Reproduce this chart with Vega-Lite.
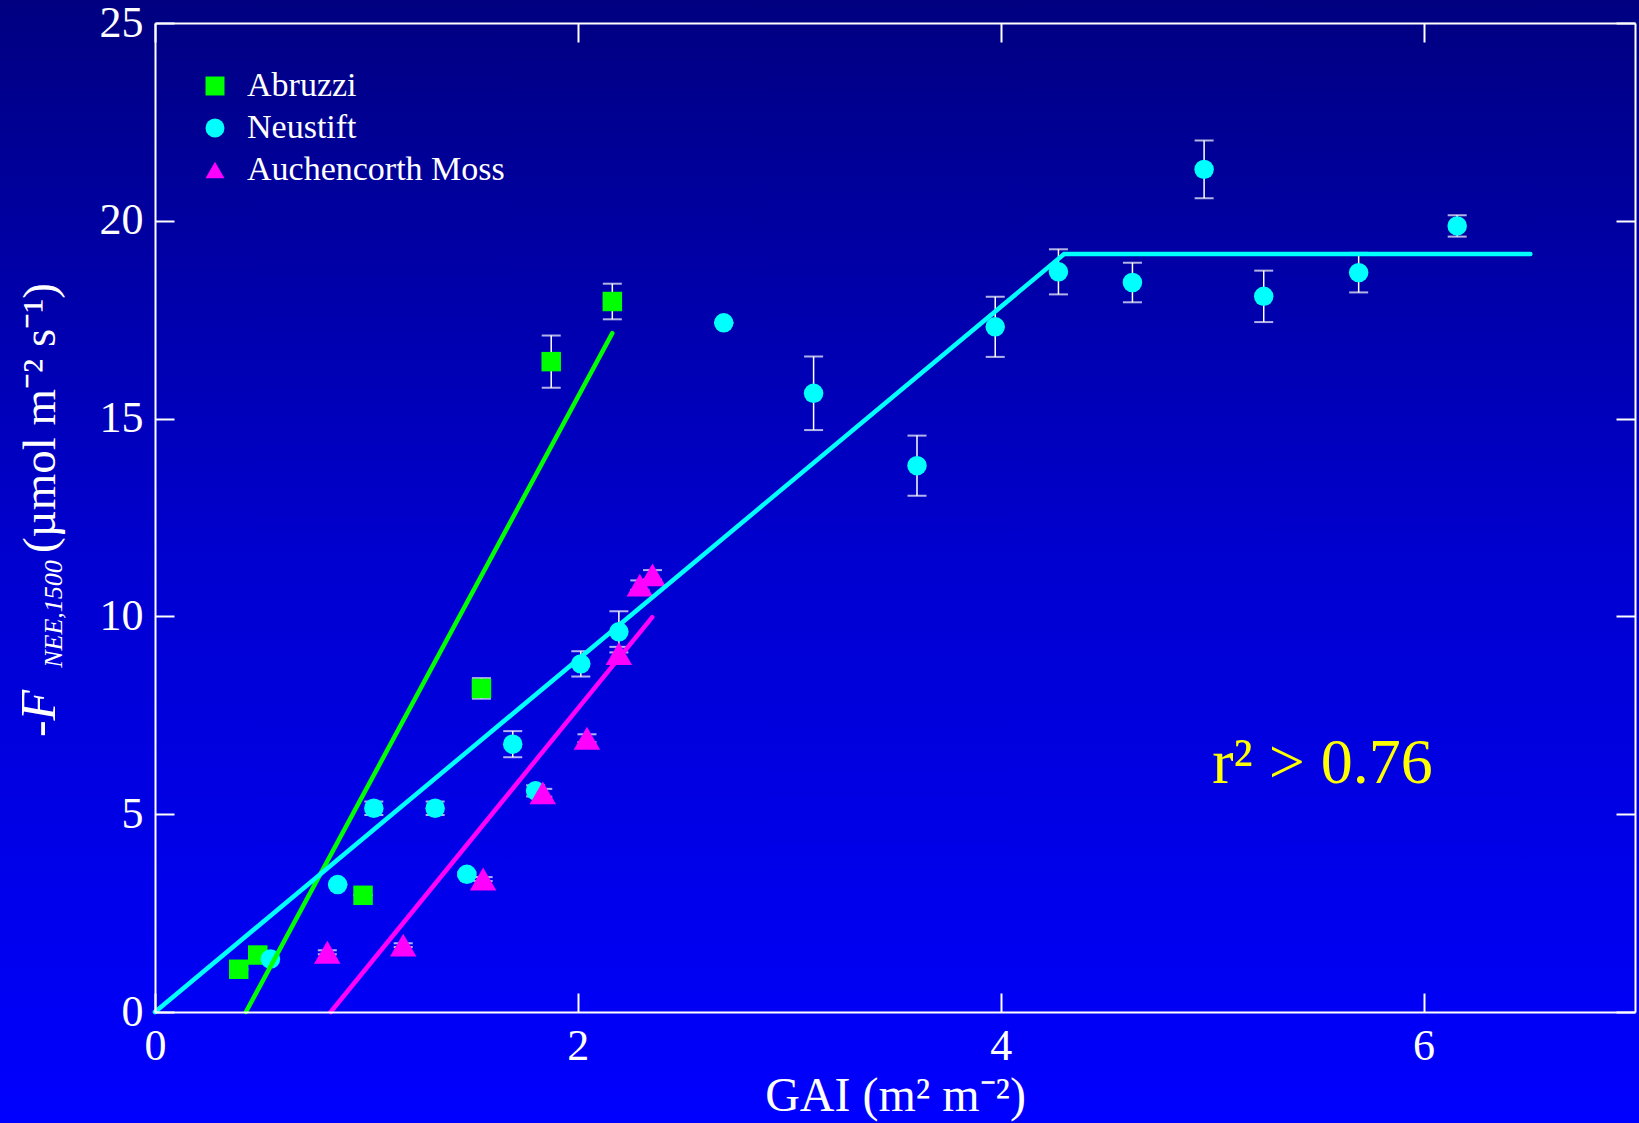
{
  "$schema": "https://vega.github.io/schema/vega-lite/v6.json",
  "width": 1480,
  "height": 989,
  "autosize": {"type": "none"},
  "padding": {"left": 155, "top": 23, "right": 4, "bottom": 111},
  "background": "#0000c0",
  "config": {
    "view": {"stroke": null},
    "font": "Liberation Serif"
  },
  "datasets": {
    "pts": [
      {"site": "Abruzzi", "gai": 0.396, "f": 1.08, "err": 0},
      {"site": "Abruzzi", "gai": 0.486, "f": 1.44, "err": 0},
      {"site": "Abruzzi", "gai": 0.984, "f": 2.95, "err": 0},
      {"site": "Abruzzi", "gai": 1.544, "f": 8.18, "err": 0.26},
      {"site": "Abruzzi", "gai": 1.874, "f": 16.44, "err": 0.66},
      {"site": "Abruzzi", "gai": 2.163, "f": 17.96, "err": 0.45},
      {"site": "Neustift", "gai": 0.546, "f": 1.34, "err": 0},
      {"site": "Neustift", "gai": 0.864, "f": 3.22, "err": 0},
      {"site": "Neustift", "gai": 1.035, "f": 5.15, "err": 0.17},
      {"site": "Neustift", "gai": 1.325, "f": 5.15, "err": 0.17},
      {"site": "Neustift", "gai": 1.475, "f": 3.48, "err": 0.05},
      {"site": "Neustift", "gai": 1.692, "f": 6.77, "err": 0.33},
      {"site": "Neustift", "gai": 1.8, "f": 5.59, "err": 0.14},
      {"site": "Neustift", "gai": 2.014, "f": 8.8, "err": 0.32},
      {"site": "Neustift", "gai": 2.194, "f": 9.61, "err": 0.52},
      {"site": "Neustift", "gai": 2.69, "f": 17.42, "err": 0},
      {"site": "Neustift", "gai": 3.115, "f": 15.64, "err": 0.93},
      {"site": "Neustift", "gai": 3.604, "f": 13.81, "err": 0.76},
      {"site": "Neustift", "gai": 3.974, "f": 17.32, "err": 0.76},
      {"site": "Neustift", "gai": 4.273, "f": 18.71, "err": 0.57},
      {"site": "Neustift", "gai": 4.623, "f": 18.44, "err": 0.5},
      {"site": "Neustift", "gai": 4.962, "f": 21.3, "err": 0.73},
      {"site": "Neustift", "gai": 5.244, "f": 18.09, "err": 0.65},
      {"site": "Neustift", "gai": 5.693, "f": 18.69, "err": 0.5},
      {"site": "Neustift", "gai": 6.159, "f": 19.87, "err": 0.27},
      {"site": "Auchencorth Moss", "gai": 0.815, "f": 1.51, "err": 0.05},
      {"site": "Auchencorth Moss", "gai": 1.174, "f": 1.69, "err": 0.05},
      {"site": "Auchencorth Moss", "gai": 1.552, "f": 3.36, "err": 0.05},
      {"site": "Auchencorth Moss", "gai": 1.834, "f": 5.54, "err": 0.1},
      {"site": "Auchencorth Moss", "gai": 2.043, "f": 6.92, "err": 0.1},
      {"site": "Auchencorth Moss", "gai": 2.194, "f": 9.06, "err": 0.17},
      {"site": "Auchencorth Moss", "gai": 2.293, "f": 10.79, "err": 0.12},
      {"site": "Auchencorth Moss", "gai": 2.353, "f": 11.05, "err": 0.12}
    ],
    "fits": [
      {"site": "Abruzzi", "gai": 0.43, "f": 0},
      {"site": "Abruzzi", "gai": 2.163, "f": 17.16},
      {"site": "Neustift", "gai": 0, "f": 0},
      {"site": "Neustift", "gai": 4.3, "f": 19.16},
      {"site": "Neustift", "gai": 6.505, "f": 19.16},
      {"site": "Auchencorth Moss", "gai": 0.831, "f": 0},
      {"site": "Auchencorth Moss", "gai": 2.352, "f": 9.98}
    ]
  },
  "resolve": {"axis": {"x": "independent", "y": "independent"}},
  "layer": [
    {
      "data": {"values": [{}]},
      "mark": {
        "type": "rect",
        "fill": {
          "gradient": "linear",
          "x1": 0, "y1": 0, "x2": 0, "y2": 1,
          "stops": [
            {"offset": 0, "color": "#000080"},
            {"offset": 0.5, "color": "#0000d0"},
            {"offset": 1, "color": "#0000ff"}
          ]
        }
      },
      "encoding": {
        "x": {
          "datum": -0.8, "type": "quantitative",
          "scale": {"domain": [0, 7], "nice": false, "zero": false},
          "axis": {
            "orient": "bottom", "values": [0, 2, 4, 6], "format": "d",
            "title": "GAI (m² m⁻²)", "titleFont": "Liberation Serif", "titleFontSize": 48,
            "titleFontWeight": "normal", "titleColor": "white", "titleBaseline": "alphabetic", "titleY": 98,
            "labelFont": "Liberation Serif", "labelFontSize": 44, "labelColor": "white",
            "labelPadding": 31, "labelFlush": false, "labelOverlap": false, "labelBound": false,
            "tickSize": -19, "tickWidth": 2, "tickColor": "white",
            "domainColor": "white", "domainWidth": 2, "grid": false, "zindex": 1
          }
        },
        "x2": {"datum": 7.1},
        "y": {
          "datum": -3, "type": "quantitative",
          "scale": {"domain": [0, 25], "nice": false, "zero": false},
          "axis": {
            "orient": "left", "values": [0, 5, 10, 15, 20, 25], "format": "d", "title": null,
            "labelFont": "Liberation Serif", "labelFontSize": 44, "labelColor": "white",
            "labelPadding": 31, "labelFlush": false, "labelOverlap": false, "labelBound": false,
            "tickSize": -19, "tickWidth": 2, "tickColor": "white",
            "domainColor": "white", "domainWidth": 2, "grid": false, "zindex": 1
          }
        },
        "y2": {"datum": 25.7}
      }
    },
    {
      "data": {"name": "pts"},
      "mark": {
        "type": "errorbar",
        "ticks": {"size": 19, "color": "white", "thickness": 2},
        "rule": {"color": "white", "strokeWidth": 1.5}
      },
      "encoding": {
        "x": {"field": "gai", "type": "quantitative", "scale": {"domain": [0, 7], "nice": false, "zero": false}, "axis": null},
        "y": {"field": "f", "type": "quantitative", "scale": {"domain": [0, 25], "nice": false, "zero": false}, "axis": null},
        "yError": {"field": "err"}
      }
    },
    {
      "data": {"name": "pts"},
      "mark": {"type": "point", "filled": true, "opacity": 1, "strokeWidth": 0},
      "encoding": {
        "x": {"field": "gai", "type": "quantitative", "scale": {"domain": [0, 7], "nice": false, "zero": false}, "axis": null},
        "y": {"field": "f", "type": "quantitative", "scale": {"domain": [0, 25], "nice": false, "zero": false}, "axis": null},
        "size": {
          "condition": {"test": "datum.site === 'Auchencorth Moss'", "value": 700},
          "value": 380
        },
        "color": {
          "field": "site", "type": "nominal",
          "scale": {"domain": ["Abruzzi", "Neustift", "Auchencorth Moss"], "range": ["#00ff00", "#00ffff", "#ff00ff"]},
          "legend": {
            "title": null, "orient": "none", "legendX": 43, "legendY": 46,
            "labelFont": "Liberation Serif", "labelFontSize": 34, "labelColor": "white", "labelLimit": 0,
            "symbolSize": 360, "symbolStrokeWidth": 0, "symbolOpacity": 1,
            "rowPadding": 8, "labelOffset": 15, "padding": 0
          }
        },
        "shape": {
          "field": "site", "type": "nominal",
          "scale": {"domain": ["Abruzzi", "Neustift", "Auchencorth Moss"], "range": ["square", "circle", "triangle-up"]},
          "legend": {
            "title": null, "orient": "none", "legendX": 43, "legendY": 46,
            "labelFont": "Liberation Serif", "labelFontSize": 34, "labelColor": "white", "labelLimit": 0,
            "symbolSize": 360, "symbolStrokeWidth": 0, "symbolOpacity": 1,
            "rowPadding": 8, "labelOffset": 15, "padding": 0
          }
        }
      }
    },
    {
      "data": {"name": "fits"},
      "mark": {"type": "line", "strokeWidth": 4.5, "strokeCap": "round"},
      "encoding": {
        "x": {
          "field": "gai", "type": "quantitative", "scale": {"domain": [0, 7], "nice": false, "zero": false},
          "axis": {
            "orient": "top", "values": [0, 2, 4, 6], "labels": false, "title": null,
            "tickSize": -19, "tickWidth": 2, "tickColor": "white",
            "domainColor": "white", "domainWidth": 2, "grid": false, "zindex": 1
          }
        },
        "y": {
          "field": "f", "type": "quantitative", "scale": {"domain": [0, 25], "nice": false, "zero": false},
          "axis": {
            "orient": "right", "values": [0, 5, 10, 15, 20, 25], "labels": false, "title": null,
            "tickSize": -19, "tickWidth": 2, "tickColor": "white",
            "domainColor": "white", "domainWidth": 2, "grid": false, "zindex": 1
          }
        },
        "color": {"field": "site", "type": "nominal", "legend": null},
        "detail": {"field": "site"}
      }
    },
    {
      "data": {"values": [{}]},
      "mark": {"type": "text", "text": "r² > 0.76", "font": "Liberation Serif", "fontSize": 64, "color": "#ffff00", "align": "left", "baseline": "alphabetic"},
      "encoding": {
        "x": {"datum": 5.0, "type": "quantitative", "axis": null},
        "y": {"datum": 5.78, "type": "quantitative", "axis": null}
      }
    },
    {
      "data": {"values": [{}]},
      "mark": {"type": "text", "text": "-F", "font": "Liberation Serif", "fontSize": 50, "fontStyle": "italic", "color": "white", "align": "left", "baseline": "alphabetic", "angle": 270},
      "encoding": {
        "x": {"datum": -0.473, "type": "quantitative", "axis": null},
        "y": {"datum": 6.95, "type": "quantitative", "axis": null}
      }
    },
    {
      "data": {"values": [{}]},
      "mark": {"type": "text", "text": "NEE,1500", "font": "Liberation Serif", "fontSize": 26, "fontStyle": "italic", "color": "white", "align": "left", "baseline": "alphabetic", "angle": 270},
      "encoding": {
        "x": {"datum": -0.44, "type": "quantitative", "axis": null},
        "y": {"datum": 8.7, "type": "quantitative", "axis": null}
      }
    },
    {
      "data": {"values": [{}]},
      "mark": {"type": "text", "text": "(µmol m⁻² s⁻¹)", "font": "Liberation Serif", "fontSize": 47, "color": "white", "align": "left", "baseline": "alphabetic", "angle": 270},
      "encoding": {
        "x": {"datum": -0.473, "type": "quantitative", "axis": null},
        "y": {"datum": 11.6, "type": "quantitative", "axis": null}
      }
    }
  ]
}
